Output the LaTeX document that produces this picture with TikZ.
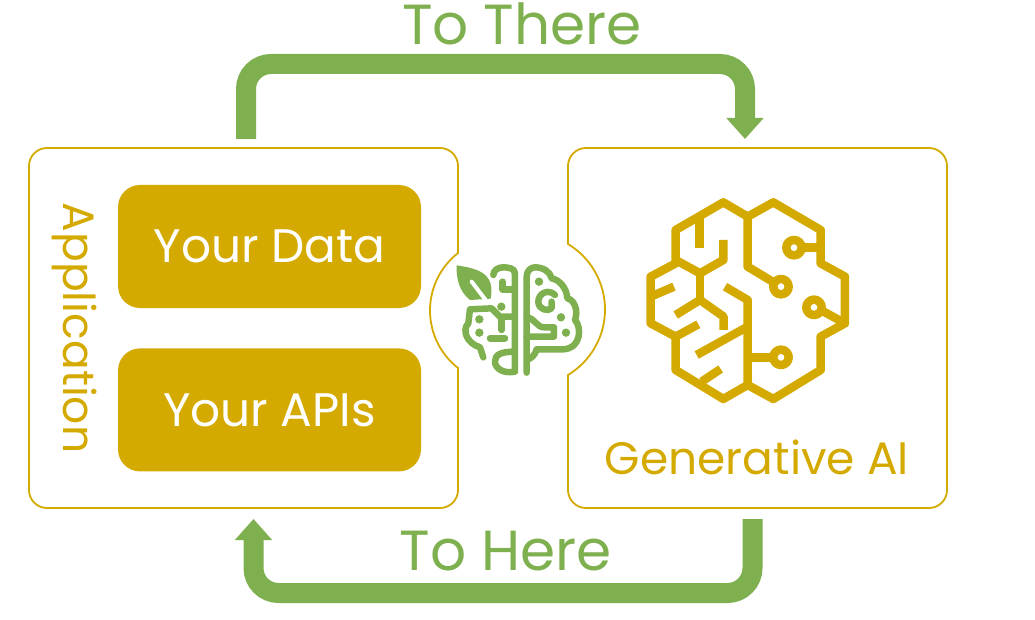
\documentclass[tikz,border=0pt]{standalone}
\usepackage{fontspec}
\usepackage{xcolor}
\usetikzlibrary{arrows.meta,calc,positioning}
\setmainfont{Poppins}
\definecolor{aiGold}{HTML}{D4AA00}
\definecolor{aiGreen}{HTML}{7FB04F}
\newcommand{\labelsize}[1]{\fontsize{#1}{#1}\selectfont}
\begin{document}
\begin{tikzpicture}[x=1pt, y=-1pt,
    goldbox/.style={fill=aiGold, rounded corners=22pt, minimum width=303pt, minimum height=123pt, text=white, font=\labelsize{47}},
    goldtext/.style={text=aiGold, font=\labelsize{45}},
    greentext/.style={text=aiGreen, font=\labelsize{56.5}},
    flow/.style={draw=aiGreen, line width=20pt, rounded corners=25pt, -{Triangle[length=21pt, width=36pt]}},
    brain/.style={draw=aiGold, line width=8.5pt, line join=round},
    leafline/.style={draw=aiGreen, line width=6.5pt, line cap=round, line join=round}]
  \useasboundingbox (0,0) rectangle (1035,620);

  % outlines with the round cut-outs
  \draw[aiGold, line width=1.8pt] (458,368) [rounded corners=18pt] -- (458,508) -- (29,508) -- (29,148) -- (458,148) [sharp corners] -- (458,253)
    .. controls (440.3,266.9) and (430,288) .. (430,310.5) .. controls (430,333) and (440.3,354.1) .. (458,368) -- cycle;
  \draw[aiGold, line width=1.8pt] (568,375) [rounded corners=18pt] -- (568,508) -- (947,508) -- (947,148) -- (568,148) [sharp corners] -- (568,244)
    .. controls (590.9,257.9) and (605,282.7) .. (605,309.5) .. controls (605,336.3) and (590.9,361.1) .. (568,375) -- cycle;

  \node[goldbox] (data) at (269.5,246.5) {Your Data};
  \node[goldbox, below=40pt of data] (apis) {Your APIs};
  \node[goldtext, rotate=-90, font=\labelsize{44}] (app) at (75,328) {Application};
  \node[goldtext, font=\labelsize{45.5}] (genai) at (757,457) {Generative AI};
  \node[greentext] (there) at (522,24) {To There};
  \node[greentext] (here) at (506,551) {To Here};

  % big arrows
  \coordinate (thereStart) at (246,139);
  \coordinate (thereEnd) at (745,139);
  \coordinate (hereStart) at (752.5,519);
  \coordinate (hereEnd) at (253.5,519);
  \draw[flow] (thereStart) -- (246,64) -- (745,64) -- (thereEnd);
  \draw[flow] (hereStart) -- (752.5,593) -- (253.5,593) -- (hereEnd);

  % large brain
  \begin{scope}[shift={(630,185)}, x=0.3333pt, y=-0.3333pt]
    \draw[brain] (353,600) -- (280,642) -- (137,555) -- (137,455) -- (62,415) -- (62,275) -- (137,235) -- (137,135) -- (280,52) -- (353,95)
      -- (430,52) -- (572,135) -- (572,235) -- (645,275) -- (645,415) -- (572,455) -- (572,555) -- (430,642) -- cycle;
    \draw[brain] (353,95) -- (353,245) -- (431,292);
    \draw[brain] (353,600) -- (353,345) -- (285,305);
    \draw[brain] (353,425) -- (200,510);
    \draw[brain] (281,435) -- (281,395) -- (210,345) -- (137,390);
    \draw[brain] (210,345) -- (210,265);
    \draw[brain] (137,225) -- (210,265) -- (280,225) -- (280,165);
    \draw[brain] (208,188) -- (208,100);
    \draw[brain] (62,335) -- (132,305);
    \draw[brain] (137,455) -- (205,418);
    \draw[brain] (215,590) -- (272,552);
    \draw[brain] (515,188) -- (572,188);
    \draw[brain] (572,375) -- (645,415);
    \draw[brain] (353,517) -- (430,517);
    \foreach \cx/\cy in {453/305,492/188,552/367,453/517}
      \draw[brain, fill=white] (\cx,\cy) circle[radius=7.7pt];
  \end{scope}

  % small brain with leaf
  \begin{scope}[shift={(420,220)}, x=0.3333pt, y=-0.3333pt]
    \fill[aiGreen] (110,136) .. controls (165,145) and (228,155) .. (212,236) -- (150,240) .. controls (118,215) and (108,175) .. (110,136) -- cycle;
    \draw[white, line width=4pt, line cap=round] (155,185) -- (200,244);
    \draw[leafline] (320,458) -- (320,170) .. controls (320,150) and (335,142) .. (345,142) .. controls (370,142) and (390,155) .. (395,175)
      .. controls (420,180) and (440,205) .. (442,235) .. controls (465,240) and (475,275) .. (465,300) .. controls (485,320) and (485,385) .. (430,388) -- (350,388) .. controls (345,405) and (335,415) .. (320,420);
    \draw[leafline] (320,350) -- (402,350) -- (402,322) -- (372,322) .. controls (350,322) and (345,295) .. (320,292);
    \draw[leafline] (405,225) .. controls (385,205) and (355,220) .. (355,245) .. controls (355,270) and (385,275) .. (395,265) -- (395,245);
    \draw[leafline] (285,160) .. controls (285,145) and (265,142) .. (250,142) .. controls (235,142) and (220,150) .. (220,165);
    \draw[leafline] (285,160) -- (285,455) .. controls (250,462) and (225,445) .. (225,425) .. controls (225,405) and (240,395) .. (285,395);
    \draw[leafline] (285,208) -- (248,208) -- (248,185);
    \draw[leafline] (285,290) -- (240,290) -- (215,265) -- (150,268) -- (145,310) .. controls (125,330) and (140,370) .. (180,382) -- (190,412);
    \draw[leafline] (245,295) -- (245,330);
    \draw[leafline] (210,355) -- (255,355);
    \foreach \cx/\cy in {357/185,423/292,438/338,244/260,178/298,178/338}
      \fill[aiGreen] (\cx,\cy) circle[radius=4.2pt];
  \end{scope}
\end{tikzpicture}
\end{document}
